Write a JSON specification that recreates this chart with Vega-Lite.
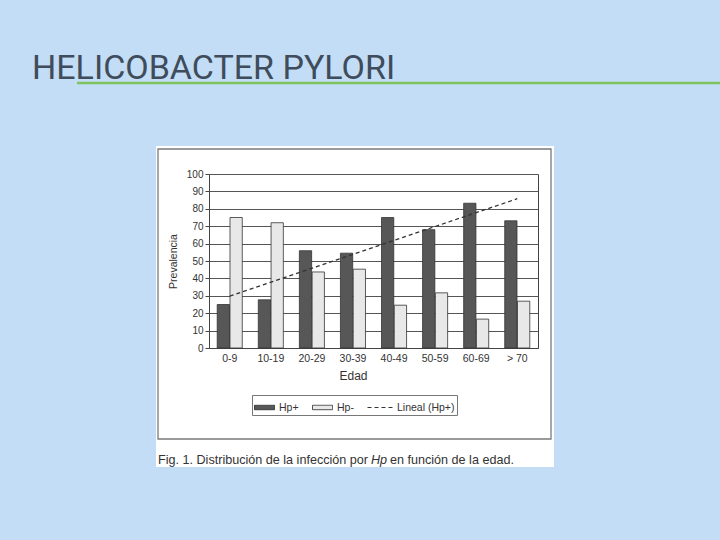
{
  "$schema": "https://vega.github.io/schema/vega-lite/v6.json",
  "width": 398,
  "height": 321,
  "autosize": {"type": "none"},
  "padding": {"left": 156, "top": 146, "right": 166, "bottom": 73},
  "background": "#c2ddf5",
  "title": {"text": "HELICOBACTER PYLORI", "anchor": "start", "frame": "group", "dx": -124, "offset": -31, "baseline": "alphabetic", "font": "Roboto", "fontSize": 34, "fontWeight": "normal", "color": "#3f4c5b"},
  "config": {
    "view": {"fill": "white", "stroke": null},
    "axis": {"labelFont": "Liberation Sans", "titleFont": "Liberation Sans", "labelColor": "#333", "titleColor": "#333", "titleFontWeight": "normal"}
  },
  "datasets": {
    "prev": [
      {"edad": "0-9", "serie": "Hp+", "valor": 25},
      {"edad": "0-9", "serie": "Hp-", "valor": 75},
      {"edad": "10-19", "serie": "Hp+", "valor": 27.7},
      {"edad": "10-19", "serie": "Hp-", "valor": 72},
      {"edad": "20-29", "serie": "Hp+", "valor": 55.9},
      {"edad": "20-29", "serie": "Hp-", "valor": 43.7},
      {"edad": "30-39", "serie": "Hp+", "valor": 54.5},
      {"edad": "30-39", "serie": "Hp-", "valor": 45.3},
      {"edad": "40-49", "serie": "Hp+", "valor": 75},
      {"edad": "40-49", "serie": "Hp-", "valor": 24.6},
      {"edad": "50-59", "serie": "Hp+", "valor": 68},
      {"edad": "50-59", "serie": "Hp-", "valor": 31.7},
      {"edad": "60-69", "serie": "Hp+", "valor": 83.2},
      {"edad": "60-69", "serie": "Hp-", "valor": 16.6},
      {"edad": "> 70", "serie": "Hp+", "valor": 73.1},
      {"edad": "> 70", "serie": "Hp-", "valor": 26.9}
    ],
    "trend": [
      {"edad": "0-9", "serie": "Lineal (Hp+)", "tendencia": 29.8},
      {"edad": "> 70", "serie": "Lineal (Hp+)", "tendencia": 85.8}
    ],
    "pie": [
      {"p1": "Fig. 1. Distribución de la infección por", "p2": "Hp", "p3": "en función de la edad."}
    ]
  },
  "layer": [
    {
      "layer": [
        {
          "data": {"name": "prev"},
          "mark": {"type": "bar", "stroke": "#333", "strokeWidth": 0.8},
          "encoding": {
            "x": {
              "field": "edad", "type": "nominal",
              "sort": ["0-9", "10-19", "20-29", "30-39", "40-49", "50-59", "60-69", "> 70"],
              "scale": {"range": [53, 382], "paddingInner": 0.39, "paddingOuter": 0.2},
              "axis": {"orient": "bottom", "offset": -119, "title": "Edad", "titleFontSize": 12, "titleX": 197, "titlePadding": 7, "labelFontSize": 10.5, "labelAngle": 0, "ticks": false, "labelPadding": 5, "domainColor": "#444"}
            },
            "xOffset": {"field": "serie", "type": "nominal", "sort": ["Hp+", "Hp-"], "scale": {"paddingInner": 0.04}},
            "y": {
              "field": "valor", "type": "quantitative",
              "scale": {"domain": [0, 100], "range": [202, 28], "nice": false},
              "axis": {"orient": "left", "offset": -53, "values": [0, 10, 20, 30, 40, 50, 60, 70, 80, 90, 100], "grid": true, "gridColor": "#555", "gridWidth": 1, "tickSize": 4, "tickColor": "#444", "domainColor": "#444", "labelFontSize": 10, "labelPadding": 2, "title": "Prevalencia", "titleFontSize": 10.5, "titlePadding": 8}
            },
            "fill": {
              "field": "serie", "type": "nominal",
              "scale": {"domain": ["Hp+", "Hp-", "Lineal (Hp+)"], "range": ["#575757", "#e8e8e8", "transparent"]},
              "legend": {
                "orient": "none", "legendX": 96, "legendY": 249, "direction": "horizontal", "title": null,
                "padding": 2, "strokeColor": "#777", "fillColor": "white",
                "symbolSize": 400, "labelFontSize": 10.5, "labelFont": "Liberation Sans", "labelColor": "#333", "labelOffset": 4, "columnPadding": 11, "symbolStrokeWidth": 1
              }
            }
          }
        },
        {
          "data": {"name": "trend"},
          "mark": {"type": "line", "strokeWidth": 1.3},
          "encoding": {
            "x": {"field": "edad", "type": "nominal", "sort": ["0-9", "10-19", "20-29", "30-39", "40-49", "50-59", "60-69", "> 70"]},
            "y": {"field": "tendencia", "type": "quantitative", "axis": {"orient": "right", "offset": -16, "labels": false, "ticks": false, "grid": false, "domainColor": "#444", "title": null}},
            "stroke": {
              "field": "serie", "type": "nominal",
              "scale": {"domain": ["Hp+", "Hp-", "Lineal (Hp+)"], "range": ["#333333", "#444444", "#333333"]},
              "legend": {
                "orient": "none", "legendX": 96, "legendY": 249, "direction": "horizontal", "title": null,
                "padding": 2, "strokeColor": "#777", "fillColor": "white",
                "symbolSize": 400, "labelFontSize": 10.5, "labelFont": "Liberation Sans", "labelColor": "#333", "labelOffset": 4, "columnPadding": 11, "symbolStrokeWidth": 1
              }
            },
            "strokeDash": {
              "field": "serie", "type": "nominal",
              "scale": {"domain": ["Hp+", "Hp-", "Lineal (Hp+)"], "range": [[1, 0], [1, 0], [4, 3]]},
              "legend": {
                "orient": "none", "legendX": 96, "legendY": 249, "direction": "horizontal", "title": null,
                "padding": 2, "strokeColor": "#777", "fillColor": "white",
                "symbolSize": 400, "labelFontSize": 10.5, "labelFont": "Liberation Sans", "labelColor": "#333", "labelOffset": 4, "columnPadding": 11, "symbolStrokeWidth": 1
              }
            }
          }
        },
        {
          "data": {"name": "trend"},
          "mark": {"type": "point", "size": 0, "filled": false},
          "encoding": {
            "x": {"field": "edad", "type": "nominal", "sort": ["0-9", "10-19", "20-29", "30-39", "40-49", "50-59", "60-69", "> 70"]},
            "y": {"field": "tendencia", "type": "quantitative", "axis": null},
            "shape": {
              "field": "serie", "type": "nominal",
              "scale": {"domain": ["Hp+", "Hp-", "Lineal (Hp+)"], "range": ["M-1,-0.22H1V0.22H-1Z", "M-1,-0.22H1V0.22H-1Z", "M-1.5,0H1"]},
              "legend": {
                "orient": "none", "legendX": 96, "legendY": 249, "direction": "horizontal", "title": null,
                "padding": 2, "strokeColor": "#777", "fillColor": "white",
                "symbolSize": 400, "labelFontSize": 10.5, "labelFont": "Liberation Sans", "labelColor": "#333", "labelOffset": 4, "columnPadding": 11, "symbolStrokeWidth": 1
              }
            }
          }
        }
      ],
      "resolve": {"axis": {"y": "independent"}}
    },
    {
      "data": {"name": "pie"},
      "layer": [
        {
          "mark": {"type": "rect", "fill": "transparent", "stroke": "#7a7a7a", "strokeWidth": 1.3},
          "encoding": {
            "x": {"datum": 0, "type": "quantitative", "scale": {"domain": [0, 1], "range": [2, 395]}, "axis": null},
            "x2": {"datum": 1},
            "y": {"datum": 0, "type": "quantitative", "scale": {"domain": [0, 1], "range": [3, 293]}, "axis": null},
            "y2": {"datum": 1}
          }
        },
        {
          "mark": {"type": "rule", "color": "#7ec35c", "strokeWidth": 2.5},
          "encoding": {
            "x": {"datum": -0.206, "type": "quantitative"},
            "x2": {"datum": 1.44},
            "y": {"datum": -0.2276, "type": "quantitative"}
          }
        },
        {
          "mark": {"type": "text", "align": "left", "baseline": "alphabetic", "font": "Liberation Sans", "fontSize": 12.6, "color": "#333"},
          "encoding": {
            "x": {"datum": 0, "type": "quantitative"},
            "y": {"datum": 1.0862, "type": "quantitative"},
            "text": {"field": "p1"}
          }
        },
        {
          "mark": {"type": "text", "align": "left", "baseline": "alphabetic", "font": "Liberation Sans", "fontSize": 12.6, "fontStyle": "italic", "color": "#333"},
          "encoding": {
            "x": {"datum": 0.542, "type": "quantitative"},
            "y": {"datum": 1.0862, "type": "quantitative"},
            "text": {"field": "p2"}
          }
        },
        {
          "mark": {"type": "text", "align": "left", "baseline": "alphabetic", "font": "Liberation Sans", "fontSize": 12.6, "color": "#333"},
          "encoding": {
            "x": {"datum": 0.5903, "type": "quantitative"},
            "y": {"datum": 1.0862, "type": "quantitative"},
            "text": {"field": "p3"}
          }
        }
      ]
    }
  ],
  "resolve": {"scale": {"x": "independent", "y": "independent"}}
}
